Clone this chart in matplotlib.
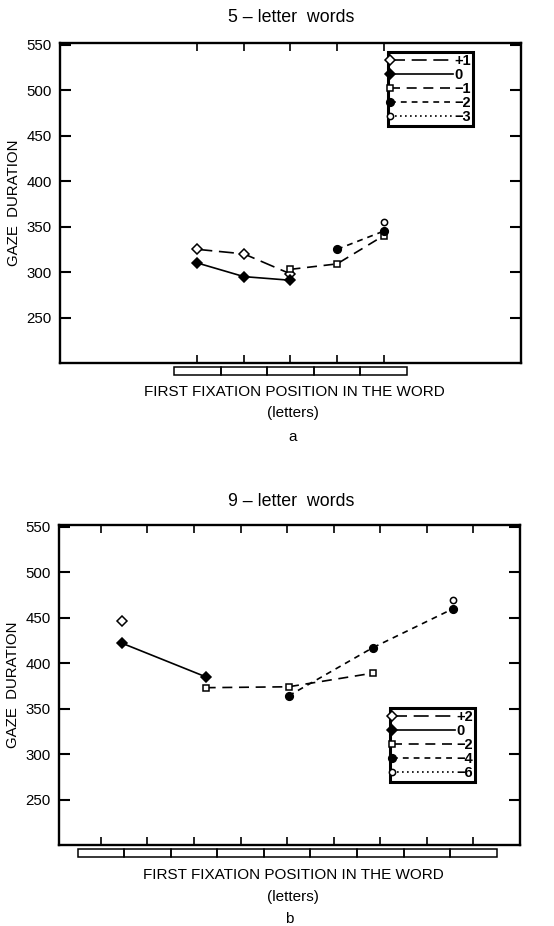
import numpy as np
import matplotlib
matplotlib.use("Agg")
import matplotlib.pyplot as plt
from matplotlib.patches import Rectangle
from matplotlib.transforms import blended_transform_factory
from matplotlib.legend_handler import HandlerLine2D

plt.rcParams['font.family'] = ['Liberation Sans', 'DejaVu Sans']

# 5-letter words (x = letter position of first fixation)
x5_p1 = [1, 2, 3]
y5_p1 = [325, 320, 298]
x5_0 = [1, 2, 3]
y5_0 = [310, 295, 291]
x5_m1 = [3, 4, 5]
y5_m1 = [303, 309, 340]
x5_m2 = [4, 5]
y5_m2 = [325, 345]
x5_m3 = [5]
y5_m3 = [355]
labels5 = ['+1', '0', '\u22121', '\u22122', '\u22123']

# 9-letter words
x9_p2 = [1.45]
y9_p2 = [446]
x9_0 = [1.45, 3.25]
y9_0 = [422, 385]
x9_m2 = [3.25, 5.03, 6.84]
y9_m2 = [373, 374, 389]
x9_m4 = [5.03, 6.84, 8.57]
y9_m4 = [364, 417, 460]
x9_m6 = [8.57]
y9_m6 = [469]
labels9 = ['+2', '0', '\u22122', '\u22124', '\u22126']

yticks = [250, 300, 350, 400, 450, 500, 550]

styles = [
    dict(ls=(0, (9, 4)), marker='D', mfc='white', ms=5.5),
    dict(ls='-', marker='D', mfc='black', ms=5.5),
    dict(ls=(0, (6, 4)), marker='s', mfc='white', ms=5),
    dict(ls=(0, (3.5, 3)), marker='o', mfc='black', ms=5.5),
    dict(ls=(0, (1, 2)), marker='o', mfc='white', ms=4.5),
]

fig = plt.figure(figsize=(5.54, 9.26), dpi=100)


def panel(rect, series, labels, nletters, xlim, leg_anchor):
    ax = fig.add_axes(rect)
    handles = []
    for (xs, ys), st, lab in zip(series, styles, labels):
        h, = ax.plot(xs, ys, color='black', lw=1.2, mec='black', mew=1.1,
                     label=lab, **st)
        handles.append(h)
    ax.set_xlim(*xlim)
    ax.set_ylim(200, 552)
    ax.set_yticks(yticks)
    ax.set_xticks(np.arange(1, nletters + 1))
    ax.set_xticklabels([])
    ax.tick_params(axis='y', direction='in', length=8, width=1.5,
                   left=True, right=True, labelsize=10.8, pad=6)
    ax.tick_params(axis='y', which='major', right=True)
    ax.tick_params(axis='x', direction='in', length=6, width=1.2,
                   top=True, bottom=True)
    for sp in ax.spines.values():
        sp.set_linewidth(1.7)
    ax.set_ylabel('GAZE  DURATION', fontsize=10.8)
    ax.yaxis.set_label_coords(-0.085, 0.5)
    # word box under the axis, one cell per letter
    tr = blended_transform_factory(ax.transData, ax.transAxes)
    for i in range(nletters):
        ax.add_patch(Rectangle((i + 0.5, -0.038), 1, 0.025, transform=tr,
                               clip_on=False, fill=False, lw=1.1,
                               ec='black'))
    leg = ax.legend(handles=handles, loc='upper left',
                    bbox_to_anchor=leg_anchor,
                    prop={'size': 10.5, 'weight': 'bold'},
                    handlelength=4.3, handletextpad=0.1, labelspacing=0.0,
                    borderpad=0.15, borderaxespad=0, fancybox=False,
                    framealpha=1, edgecolor='black',
                    handler_map={plt.Line2D: HandlerLine2D(numpoints=1)})
    leg.get_frame().set_linewidth(2.2)
    for ln in leg.get_lines():
        ln.set_markevery([0])
    return ax


panel([0.1083, 0.608, 0.832, 0.3456],
      [(x5_p1, y5_p1), (x5_0, y5_0), (x5_m1, y5_m1), (x5_m2, y5_m2),
       (x5_m3, y5_m3)],
      labels5, 5, (-1.95, 7.95), (0.711, 0.972))

panel([0.1065, 0.0875, 0.832, 0.3456],
      [(x9_p2, y9_p2), (x9_0, y9_0), (x9_m2, y9_m2), (x9_m4, y9_m4),
       (x9_m6, y9_m6)],
      labels9, 9, (0.1, 10.0), (0.718, 0.428))

W, H = 554, 926


def ftext(x, y, s, size):
    fig.text(x / W, 1 - y / H, s, ha='center', va='center', fontsize=size)


ftext(291, 18, '5 \u2013 letter  words', 12.8)
ftext(294, 392, 'FIRST FIXATION POSITION IN THE WORD', 11)
ftext(293, 413, '(letters)', 11)
ftext(293, 437, 'a', 11)

ftext(291, 502, '9 \u2013 letter  words', 12.8)
ftext(293, 875, 'FIRST FIXATION POSITION IN THE WORD', 11)
ftext(293, 897, '(letters)', 11)
ftext(289, 919, 'b', 11)

fig.savefig('out.png', dpi=100)
